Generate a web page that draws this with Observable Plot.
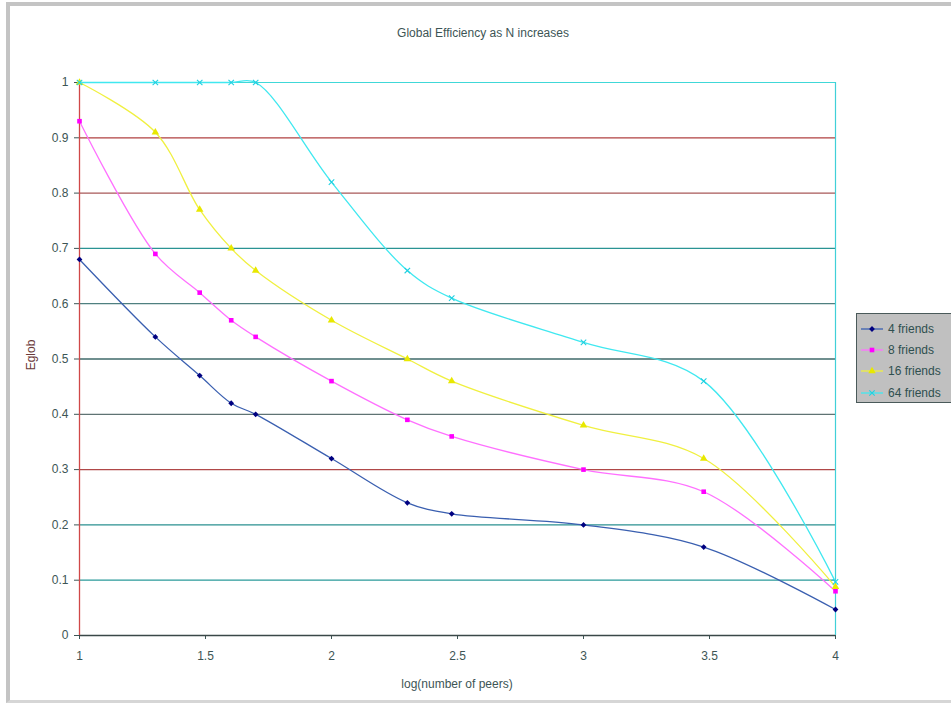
<!DOCTYPE html>
<html>
<head>
<meta charset="utf-8">
<script src="https://cdn.jsdelivr.net/npm/d3@7"></script>
<script src="https://cdn.jsdelivr.net/npm/@observablehq/plot@0.6"></script>
<style>
  html, body { margin: 0; padding: 0; background: #fff; }
  #wrap { position: relative; width: 951px; height: 706px; overflow: hidden; background: #fff;
          font-family: "Liberation Sans", Arial, sans-serif; color: #3d5555; }
  #frame { position: absolute; left: 6px; top: 2px; width: 960px; height: 701px;
           border-left: 4px solid #c4c4c4; border-top: 4px solid #c4c4c4; border-bottom: 3px solid #d6d6d6;
           box-sizing: border-box; pointer-events: none; z-index: 3; }
  #chart { position: absolute; left: 0; top: 0; }
  .lbl { position: absolute; font-size: 12px; white-space: nowrap; z-index: 2; }
  #title { left: 0; width: 966px; top: 26px; text-align: center; }
  #xlabel { left: 79px; width: 756px; top: 677px; text-align: center; }
  #ylabel { left: 31px; top: 355px; transform: translate(-50%, -50%) rotate(-90deg); color: #6a3a3a; }
  #legend { position: absolute; left: 856px; top: 313px; width: 110px; height: 90px; background: #c0c0c0;
            border: 1px solid #4a5a5a; box-sizing: border-box; z-index: 2; }
  .item { position: absolute; left: 3px; height: 14px; display: flex; align-items: center; font-size: 12px; color: #2f4f4f; }
  .item svg { margin-right: 4px; }
</style>
</head>
<body>
<div id="wrap">
  <div id="chart"></div>
  <div id="title" class="lbl">Global Efficiency as N increases</div>
  <div id="xlabel" class="lbl">log(number of peers)</div>
  <div id="ylabel" class="lbl">Eglob</div>
  <div id="legend"></div>
  <div id="frame"></div>
</div>
<script>
// ---- data ----
const logPeers = [1, 1.301, 1.477, 1.602, 1.699, 2, 2.301, 2.477, 3, 3.477, 4];
const friends4  = [0.68, 0.54, 0.47, 0.42, 0.40, 0.32, 0.24, 0.22, 0.20, 0.16, 0.047];
const friends8  = [0.93, 0.69, 0.62, 0.57, 0.54, 0.46, 0.39, 0.36, 0.30, 0.26, 0.080];
const friends16 = [1.00, 0.91, 0.77, 0.70, 0.66, 0.57, 0.50, 0.46, 0.38, 0.32, 0.088];
const friends64 = [1.00, 1.00, 1.00, 1.00, 1.00, 0.82, 0.66, 0.61, 0.53, 0.46, 0.097];
const seriesNames = ["4 friends", "8 friends", "16 friends", "64 friends"];
const xTicks = [1, 1.5, 2, 2.5, 3, 3.5, 4];
const xTickLabels = ["1", "1.5", "2", "2.5", "3", "3.5", "4"];
const yTicks = [0, 0.1, 0.2, 0.3, 0.4, 0.5, 0.6, 0.7, 0.8, 0.9, 1];
const yTickLabels = ["0", "0.1", "0.2", "0.3", "0.4", "0.5", "0.6", "0.7", "0.8", "0.9", "1"];

// ---- styles ----
const gridColors = ["#3a4848", "#2a9a9a", "#2a9090", "#b04848", "#5f7373", "#3f6a6a",
                    "#4f8080", "#2a9494", "#a85858", "#b04040", "#40d8d8"];
const styles = [
  {line: "#3a5fb0", mark: "#000080", symbol: "diamond2", r: 2.6, fill: true},
  {line: "#ff70ff", mark: "#ff00ff", symbol: "square", r: 2.6, fill: true},
  {line: "#f0f040", mark: "#e8e800", symbol: "triangle", r: 2.8, fill: true},
  {line: "#40e8f0", mark: "#20d0e0", symbol: "times", r: 2.6, fill: false}
];
const seriesValues = [friends4, friends8, friends16, friends64];

const marks = [];
yTicks.forEach((t, i) => {
  if (t > 0 && t < 1) marks.push(Plot.ruleY([t], {stroke: gridColors[i], strokeWidth: 1.3}));
});
marks.push(Plot.ruleY([1], {stroke: gridColors[10], strokeWidth: 1.2}));
marks.push(Plot.ruleX([4], {stroke: "#40d0d8", strokeWidth: 1.2}));
marks.push(Plot.ruleY([0], {stroke: "#3a4848", strokeWidth: 1.3}));
marks.push(Plot.ruleX([1], {stroke: "#d04848", strokeWidth: 1.3}));

seriesValues.forEach((vals, i) => {
  const rows = logPeers.map((x, j) => ({x, y: vals[j], s: seriesNames[i]}));
  const st = styles[i];
  marks.push(Plot.line(rows, {x: "x", y: "y", curve: "catmull-rom", stroke: st.line, strokeWidth: 1.3}));
  marks.push(Plot.dot(rows, st.fill
    ? {x: "x", y: "y", symbol: () => st.symbol, r: st.r, fill: st.mark, stroke: "none"}
    : {x: "x", y: "y", symbol: () => st.symbol, r: st.r, stroke: st.mark, strokeWidth: 1.1}));
});

const chart = Plot.plot({
  width: 951,
  height: 706,
  marginLeft: 79,
  marginRight: 116,
  marginTop: 82,
  marginBottom: 71,
  style: {fontFamily: '"Liberation Sans", Arial, sans-serif', fontSize: "12px", color: "#3d5555", background: "transparent", overflow: "visible"},
  symbol: {type: "identity"},
  x: {domain: [1, 4], ticks: xTicks, tickFormat: (d) => xTickLabels[xTicks.indexOf(d)], tickSize: 4, tickPadding: 12, label: null},
  y: {domain: [0, 1], ticks: yTicks, tickFormat: d => yTickLabels[yTicks.indexOf(d)], tickSize: 5, tickPadding: 6, label: null},
  marks
});
document.getElementById("chart").appendChild(chart);

// ---- legend ----
const legend = document.getElementById("legend");
const legendTops = [8, 29, 50, 72];
seriesNames.forEach((name, i) => {
  const st = styles[i];
  const item = document.createElement("div");
  item.className = "item";
  item.style.top = legendTops[i] + "px";
  const sym = d3.symbol(
    {diamond2: d3.symbolDiamond2, square: d3.symbolSquare, triangle: d3.symbolTriangle, times: d3.symbolTimes}[st.symbol],
    Math.PI * st.r * st.r)();
  item.innerHTML = `<svg width="24" height="12"><line x1="1" x2="23" y1="6" y2="6" stroke="${st.line}" stroke-width="1.3"/>` +
    `<path transform="translate(12,6)" d="${sym}" ${st.fill ? `fill="${st.mark}"` : `fill="none" stroke="${st.mark}" stroke-width="1.1"`}/></svg>` +
    `<span>${name}</span>`;
  legend.appendChild(item);
});
</script>
</body>
</html>
